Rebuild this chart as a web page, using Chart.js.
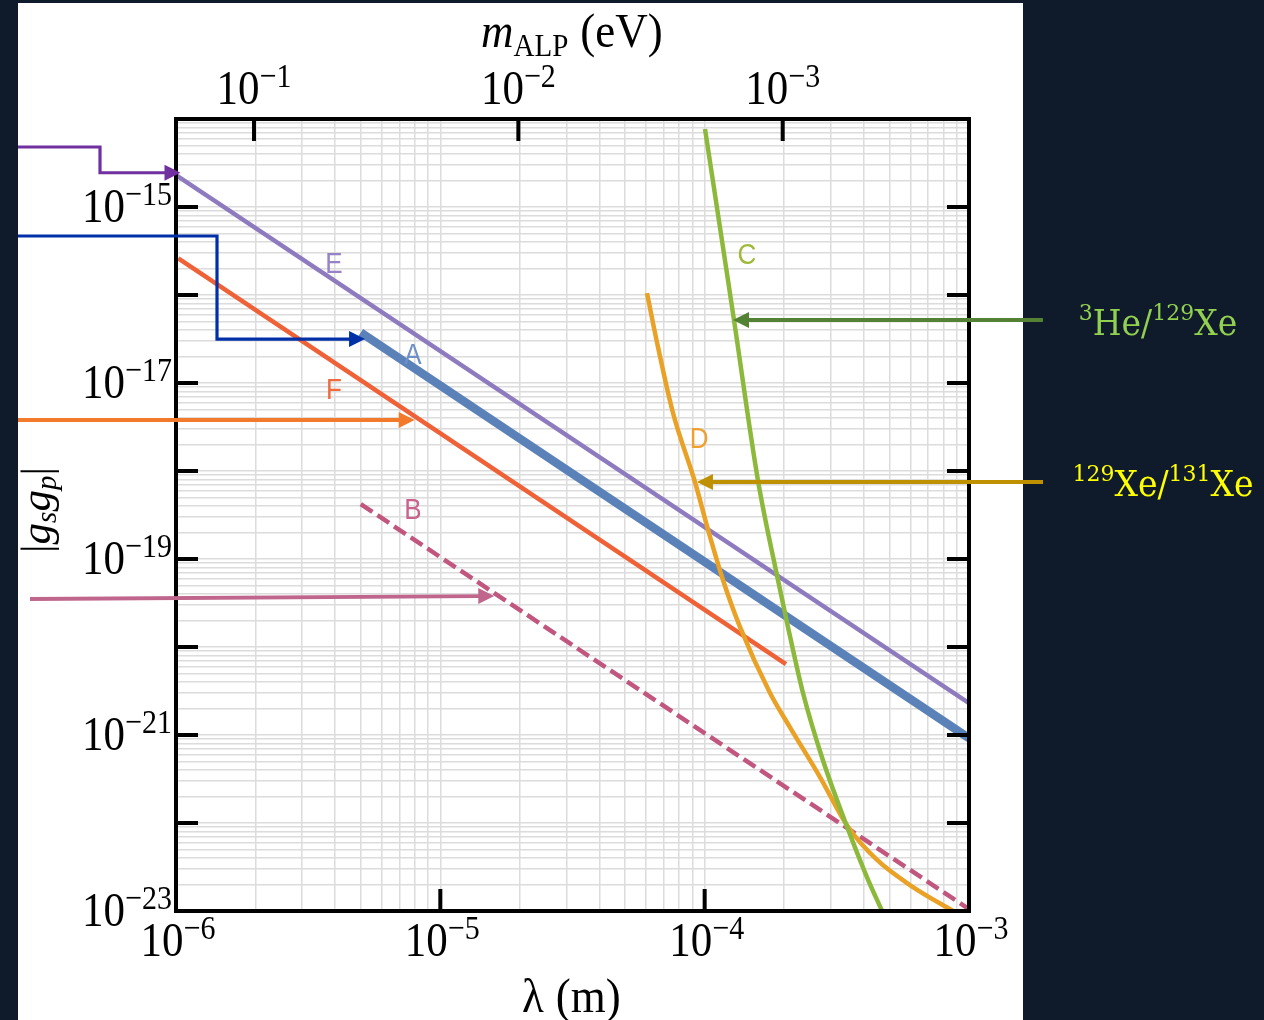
<!DOCTYPE html>
<html>
<head>
<meta charset="utf-8">
<title>ALP monopole-dipole limits</title>
<script src="https://cdn.jsdelivr.net/npm/chart.js@4.4.1/dist/chart.umd.min.js"></script>
<style>
  html, body { margin: 0; padding: 0; background: #0f1a2b; }
  canvas { display: block; }
</style>
</head>
<body>
<canvas id="chart" width="1264" height="1020"></canvas>
<script>
// axis ranges
const X_MIN = 1e-6, X_MAX = 1e-3;      // lambda (m)
const Y_MIN = 1e-23, Y_MAX = 1e-14;    // |gs gp|
const HBARC = 1.9732698e-7;            // eV*m, converts lambda to m_ALP

const xDecades = [-6, -5, -4, -3];
const yDecades = [-23, -22, -21, -20, -19, -18, -17, -16, -15, -14];
const yLabelled = [-23, -21, -19, -17, -15];
const massDecades = [-1, -2, -3];

// curves (lambda in m, coupling)
const eLambda = [1e-6, 1e-3];
const eG = [2.3e-15, 2.3e-21];
const aLambda = [5e-6, 1e-3];
const aG = [3.75e-17, 9.2e-22];
const fLambda = [1.02e-6, 2.03e-4];
const fG = [2.6e-16, 6.4e-21];
const bLambda = [5e-6, 1e-3];
const bG = [4.2e-19, 1.05e-23];
const cLambda = [1.003e-4, 1.225e-4, 1.291e-4, 1.59e-4, 1.894e-4, 2.066e-4, 2.355e-4, 2.80e-4, 3.46e-4, 4.11e-4, 4.69e-4];
const cG = [7.7e-15, 1.48e-16, 5.2e-17, 7.9e-19, 5.77e-20, 1.69e-20, 3.0e-21, 5.2e-22, 9.0e-23, 2.43e-23, 1.0e-23];
const dLambda = [6.05e-5, 6.66e-5, 7.59e-5, 9.19e-5, 1.03e-4, 1.173e-4, 1.36e-4, 1.767e-4, 2.10e-4, 2.73e-4, 3.49e-4, 4.49e-4, 6.14e-4, 8.7e-4];
const dG = [1.05e-16, 2.56e-17, 4.56e-18, 7.5e-19, 2.14e-19, 5.77e-20, 1.69e-20, 3.0e-21, 1.23e-21, 3.33e-22, 9.0e-23, 3.8e-23, 1.87e-23, 1.0e-23];

// curve letters, placed in data coords
const letterNames = ['E', 'A', 'F', 'B', 'C', 'D'];
const letterLambda = [3.96e-6, 7.88e-6, 3.96e-6, 7.88e-6, 1.445e-4, 9.52e-5];
const letterG = [2.37e-16, 2.19e-17, 8.8e-18, 3.8e-19, 3.0e-16, 2.43e-18];
const letterColors = ['#9683c6', '#6d90c8', '#f06a3c', '#c8638c', '#9fb93b', '#f0a030'];

// arrow tips in data coords, tail path in page pixels
const arrowTipLambda = [1.04e-6, 5.19e-6, 8.0e-6, 1.6e-5, 1.28e-4, 9.35e-5];
const arrowTipG = [2.45e-15, 3.16e-17, 3.8e-18, 3.8e-20, 5.2e-17, 7.5e-19];
const arrowColors = ['#7030a0', '#0030a8', '#f37a2a', '#c0668c', '#548235', '#bf9000'];

function pts(xs, ys) { return xs.map((x, i) => ({ x, y: ys[i] })); }

function logTicks(lo, hi) {
  const t = [];
  for (let e = lo; e < hi; e++) {
    for (let m = 1; m < 10; m++) t.push({ value: Number(m + 'e' + e) });
  }
  t.push({ value: Number('1e' + hi) });
  return t;
}

const SERIF = '"Liberation Serif", "Times New Roman", serif';
const SY = 1.15; // the figure text is a bit tall

function drawRuns(ctx, x, y, runs, align, sy) {
  ctx.save();
  ctx.translate(x, y);
  ctx.scale(1, sy || 1);
  ctx.textAlign = 'left';
  ctx.textBaseline = 'alphabetic';
  let w = 0;
  runs.forEach(r => { ctx.font = r.font; r.w = ctx.measureText(r.t).width; w += r.w + (r.gap || 0); });
  let cx = align === 'center' ? -w / 2 : align === 'right' ? -w : 0;
  runs.forEach(r => {
    ctx.font = r.font;
    ctx.fillStyle = r.color || '#000';
    ctx.fillText(r.t, cx, r.dy || 0);
    cx += r.w + (r.gap || 0);
  });
  ctx.restore();
}

function powRuns(e) {
  return [
    { t: '10', font: '43px ' + SERIF },
    { t: '\u2212' + Math.abs(e), font: '30px ' + SERIF, dy: -15 }
  ];
}

function arrow(ctx, path, color, width) {
  const n = path.length;
  const [tx, ty] = path[n - 1];
  const [px, py] = path[n - 2];
  const ang = Math.atan2(ty - py, tx - px);
  const head = 16, half = 8;
  const bx = tx - Math.cos(ang) * head, by = ty - Math.sin(ang) * head;
  ctx.save();
  ctx.strokeStyle = color;
  ctx.fillStyle = color;
  ctx.lineWidth = width;
  ctx.lineJoin = 'miter';
  ctx.beginPath();
  ctx.moveTo(path[0][0], path[0][1]);
  for (let i = 1; i < n - 1; i++) ctx.lineTo(path[i][0], path[i][1]);
  ctx.lineTo(bx + Math.cos(ang) * 2, by + Math.sin(ang) * 2);
  ctx.stroke();
  ctx.beginPath();
  ctx.moveTo(tx, ty);
  ctx.lineTo(bx - Math.sin(ang) * half, by + Math.cos(ang) * half);
  ctx.lineTo(bx + Math.sin(ang) * half, by - Math.cos(ang) * half);
  ctx.closePath();
  ctx.fill();
  ctx.restore();
}

const decor = {
  id: 'decor',
  beforeDraw(chart) {
    const c = chart.ctx;
    c.save();
    c.fillStyle = '#ffffff';
    c.fillRect(18, 3, 1005, 1017);
    c.restore();
  },
  afterDraw(chart) {
    const c = chart.ctx;
    const a = chart.chartArea;
    const xs = chart.scales.x, ys = chart.scales.y, ms = chart.scales.m;

    // frame
    c.save();
    c.strokeStyle = '#000';
    c.lineWidth = 4;
    c.strokeRect(a.left, a.top, a.right - a.left, a.bottom - a.top);
    c.beginPath();
    xDecades.slice(1, -1).forEach(e => {
      const px = xs.getPixelForValue(Number('1e' + e));
      c.moveTo(px, a.bottom); c.lineTo(px, a.bottom - 22);
    });
    massDecades.forEach(e => {
      const px = ms.getPixelForValue(Number('1e' + e));
      c.moveTo(px, a.top); c.lineTo(px, a.top + 22);
    });
    yDecades.slice(1, -1).forEach(e => {
      const py = ys.getPixelForValue(Number('1e' + e));
      c.moveTo(a.left, py); c.lineTo(a.left + 22, py);
      c.moveTo(a.right, py); c.lineTo(a.right - 22, py);
    });
    c.stroke();
    c.restore();

    // tick labels
    xDecades.forEach(e => drawRuns(c, xs.getPixelForValue(Number('1e' + e)) + 2, 956, powRuns(e), 'center', SY));
    yLabelled.forEach(e => drawRuns(c, 172, ys.getPixelForValue(Number('1e' + e)) + 15, powRuns(e), 'right', SY));
    massDecades.forEach(e => drawRuns(c, ms.getPixelForValue(Number('1e' + e)), 104, powRuns(e), 'center', SY));

    // axis titles
    drawRuns(c, 481, 47, [
      { t: 'm', font: 'italic 45px ' + SERIF },
      { t: 'ALP', font: '29px ' + SERIF, dy: 8, gap: 12 },
      { t: '(eV)', font: '45px ' + SERIF }
    ], 'left', 1.08);
    drawRuns(c, 522, 1012, [
      { t: '\u03bb', font: '45px ' + SERIF, gap: 12 },
      { t: '(m)', font: '45px ' + SERIF }
    ], 'left', 1.08);
    c.save();
    c.translate(50, 510);
    c.rotate(-Math.PI / 2);
    drawRuns(c, 0, 0, [
      { t: '|', font: '43px ' + SERIF },
      { t: 'g', font: 'italic 43px ' + SERIF },
      { t: 's', font: 'italic 29px ' + SERIF, dy: 6 },
      { t: 'g', font: 'italic 43px ' + SERIF },
      { t: 'p', font: 'italic 29px ' + SERIF, dy: 6 },
      { t: '|', font: '43px ' + SERIF }
    ], 'center', 1);
    c.restore();

    // arrows pointing at the curves
    const tip = i => [xs.getPixelForValue(arrowTipLambda[i]), ys.getPixelForValue(arrowTipG[i])];
    const t0 = tip(0), t1 = tip(1), t2 = tip(2), t3 = tip(3), t4 = tip(4), t5 = tip(5);
    arrow(c, [[18, 147], [100, 147], [100, t0[1]], t0], arrowColors[0], 3.2);
    arrow(c, [[18, 236], [217, 236], [217, t1[1]], t1], arrowColors[1], 3.2);
    arrow(c, [[18, t2[1]], t2], arrowColors[2], 3.8);
    arrow(c, [[30, t3[1] + 3], t3], arrowColors[3], 3.8);
    arrow(c, [[1043, t4[1]], t4], arrowColors[4], 4);
    arrow(c, [[1043, t5[1]], t5], arrowColors[5], 4);

    // curve letters
    letterNames.forEach((L, i) => {
      drawRuns(c, xs.getPixelForValue(letterLambda[i]), ys.getPixelForValue(letterG[i]) + 11,
        [{ t: L, font: '26px "Liberation Sans", Arial, sans-serif', color: letterColors[i] }], 'center', 1.1);
    });

    // isotope labels
    const lab = '"DejaVu Serif", serif';
    drawRuns(c, 1158, 335, [
      { t: '3', font: '22px ' + lab, dy: -14, color: '#92d050' },
      { t: 'He/', font: '33px ' + lab, color: '#92d050' },
      { t: '129', font: '22px ' + lab, dy: -14, color: '#92d050' },
      { t: 'Xe', font: '33px ' + lab, color: '#92d050' }
    ], 'center', 1.05);
    drawRuns(c, 1163, 496, [
      { t: '129', font: '22px ' + lab, dy: -14, color: '#ffff00' },
      { t: 'Xe/', font: '33px ' + lab, color: '#ffff00' },
      { t: '131', font: '22px ' + lab, dy: -14, color: '#ffff00' },
      { t: 'Xe', font: '33px ' + lab, color: '#ffff00' }
    ], 'center', 1.05);
  }
};

const hiddenAxis = (horizontal) => ({
  type: 'logarithmic',
  ticks: { display: false },
  border: { display: false },
  afterFit: s => { if (horizontal) s.height = 0; else s.width = 0; }
});

new Chart(document.getElementById('chart'), {
  type: 'line',
  data: {
    datasets: [
      { label: 'C', data: pts(cLambda, cG), borderColor: '#8cb93b', borderWidth: 4.5, cubicInterpolationMode: 'monotone' },
      { label: 'D', data: pts(dLambda, dG), borderColor: '#e9a126', borderWidth: 4.5, cubicInterpolationMode: 'monotone' },
      { label: 'A', data: pts(aLambda, aG), borderColor: '#5b81b9', borderWidth: 8.5 },
      { label: 'E', data: pts(eLambda, eG), borderColor: '#8e7bbf', borderWidth: 4.5 },
      { label: 'F', data: pts(fLambda, fG), borderColor: '#ef6136', borderWidth: 4.5 },
      { label: 'B', data: pts(bLambda, bG), borderColor: '#c1577f', borderWidth: 4.5, borderDash: [14, 6] }
    ]
  },
  options: {
    responsive: false,
    animation: false,
    layout: { padding: { left: 176, top: 119, right: 295, bottom: 109 } },
    elements: { point: { radius: 0, hoverRadius: 0 }, line: { borderCapStyle: 'butt' } },
    plugins: { legend: { display: false }, tooltip: { enabled: false } },
    scales: {
      x: Object.assign(hiddenAxis(true), {
        position: 'bottom', min: X_MIN, max: X_MAX,
        afterBuildTicks: s => { s.ticks = logTicks(-6, -3); },
        grid: { color: '#dcdcdc', lineWidth: 1.5, drawTicks: false }
      }),
      y: Object.assign(hiddenAxis(false), {
        position: 'left', min: Y_MIN, max: Y_MAX,
        afterBuildTicks: s => { s.ticks = logTicks(-23, -14); },
        grid: { color: '#dcdcdc', lineWidth: 1.5, drawTicks: false }
      }),
      m: Object.assign(hiddenAxis(true), {
        position: 'top', reverse: true, min: HBARC / X_MAX, max: HBARC / X_MIN,
        afterBuildTicks: s => { s.ticks = massDecades.map(e => ({ value: Number('1e' + e) })); },
        grid: { display: false }
      })
    }
  },
  plugins: [decor]
});
</script>
</body>
</html>
